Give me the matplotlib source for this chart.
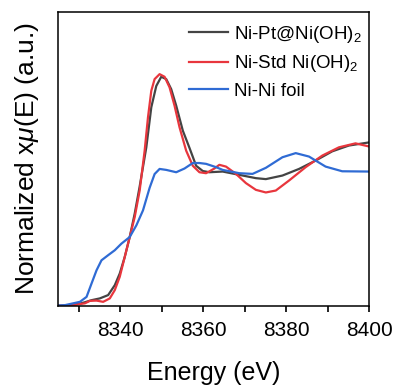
import matplotlib
matplotlib.use("Agg")
import matplotlib.pyplot as plt
from matplotlib.ticker import MultipleLocator

plt.rcParams['font.family'] = ['Liberation Sans', 'DejaVu Sans']
plt.rcParams['mathtext.fontset'] = 'custom'
plt.rcParams['mathtext.rm'] = 'Liberation Sans'
plt.rcParams['mathtext.it'] = 'Liberation Sans:italic'

# Ni-Pt@Ni(OH)2
e_pt = [8325, 8328, 8330.3, 8331.5, 8333.1, 8335.1, 8337.1, 8338.7, 8339.9, 8341.1,
        8342.3, 8343.5, 8344.7, 8346.3, 8347.5, 8348.7, 8349.9, 8351.1, 8352.3, 8353.5,
        8355.1, 8356.7, 8358.3, 8359.9, 8361.5, 8364.7, 8368.7, 8372.7, 8375.1, 8379.1,
        8383.1, 8387.1, 8391.1, 8395.1, 8400]
mu_pt = [0.003, 0.007, 0.018, 0.028, 0.043, 0.056, 0.08, 0.152, 0.237, 0.357,
         0.502, 0.672, 0.87, 1.154, 1.445, 1.60, 1.667, 1.65, 1.577, 1.457,
         1.275, 1.15, 1.02, 0.982, 0.973, 0.978, 0.954, 0.93, 0.923, 0.949,
         0.997, 1.058, 1.125, 1.167, 1.19]

# Ni-Std Ni(OH)2
e_std = [8325, 8328, 8331.5, 8332.7, 8334.3, 8335.9, 8337.5, 8338.7, 8339.9, 8341.1,
         8342.3, 8343.5, 8344.7, 8345.9, 8346.7, 8347.5, 8348.3, 8349.5, 8350.7, 8351.9,
         8353.1, 8354.3, 8355.9, 8357.5, 8359.1, 8360.7, 8362.7, 8363.9, 8365.5, 8367.9,
         8370.3, 8372.7, 8375.1, 8377.5, 8380.7, 8384.7, 8388.7, 8392.7, 8396.7, 8400]
mu_std = [0.002, 0.005, 0.02, 0.038, 0.04, 0.031, 0.056, 0.116, 0.213, 0.357,
          0.502, 0.647, 0.84, 1.13, 1.372, 1.565, 1.65, 1.686, 1.667, 1.59,
          1.457, 1.30, 1.13, 1.02, 0.973, 0.966, 1.0, 1.027, 1.014, 0.961,
          0.894, 0.845, 0.826, 0.84, 0.913, 1.01, 1.094, 1.154, 1.183, 1.16]

# Ni-Ni foil
e_foil = [8325, 8326.7, 8330.3, 8331.9, 8333.1, 8334.3, 8335.5, 8337.1, 8338.7, 8340.3,
          8342.3, 8343.9, 8345.5, 8347.1, 8348.3, 8349.5, 8351.1, 8353.5, 8355.5, 8357.5,
          8359.1, 8360.7, 8363.1, 8364.7, 8368.7, 8371.9, 8375.1, 8379.1, 8382.3, 8385.5,
          8389.5, 8393.5, 8400]
mu_foil = [0.004, 0.007, 0.031, 0.067, 0.164, 0.26, 0.333, 0.37, 0.406, 0.454,
           0.502, 0.587, 0.696, 0.86, 0.96, 0.997, 0.99, 0.973, 1.0, 1.04,
           1.04, 1.034, 1.01, 0.99, 0.966, 0.961, 1.005, 1.082, 1.112, 1.087,
           1.014, 0.98, 0.978]

labels = ['Ni-Pt@Ni(OH)$_2$', 'Ni-Std Ni(OH)$_2$', 'Ni-Ni foil']
colors = ['#444444', '#e8363d', '#2f6bd4']

fig = plt.figure(figsize=(3.94, 3.86), dpi=100)
ax = fig.add_axes([0.147, 0.207, 0.79, 0.762])

for e, mu, lab, c in zip([e_pt, e_std, e_foil], [mu_pt, mu_std, mu_foil], labels, colors):
    ax.plot(e, mu, color=c, lw=1.6, label=lab, solid_joinstyle='round')

ax.set_xlim(8325, 8400)
ax.set_ylim(0, 2.138)
ax.set_xticks([8340, 8360, 8380, 8400])
ax.xaxis.set_minor_locator(MultipleLocator(10))
ax.tick_params(axis='x', which='both', direction='out', length=4.5, width=1.2, labelsize=15, pad=6)
ax.set_yticks([])
for s in ax.spines.values():
    s.set_linewidth(1.1)

ax.set_xlabel('Energy (eV)', fontsize=18, labelpad=15)
ax.set_ylabel(r'Normalized x$\mathit{\mu}$(E) (a.u.)', fontsize=19, labelpad=12)

ax.legend(loc='upper right', bbox_to_anchor=(1.0, 0.985), frameon=False, fontsize=13.5,
          handlelength=2.1, handletextpad=0.3, labelspacing=0.45, borderaxespad=0)

fig.savefig('out.png', dpi=100)
